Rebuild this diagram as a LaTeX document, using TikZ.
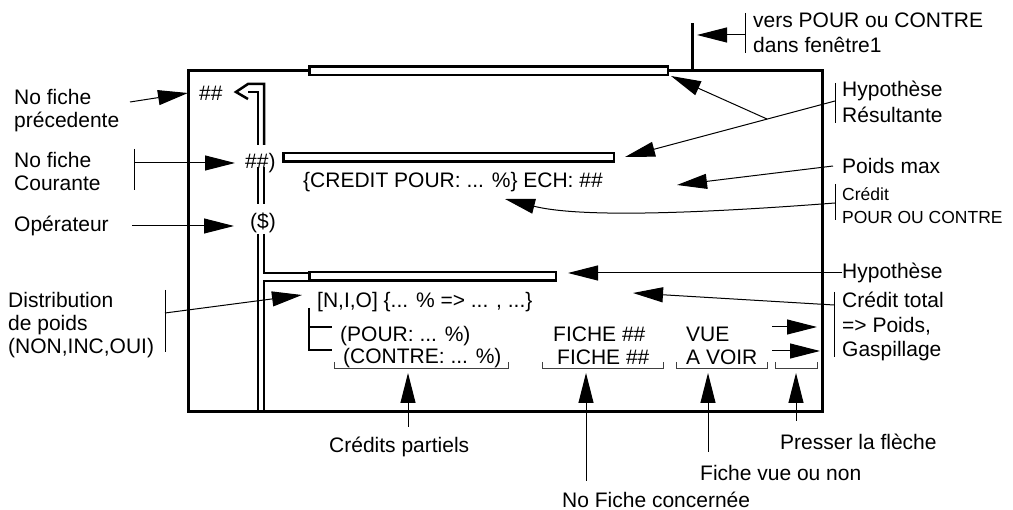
\documentclass[tikz,border=0pt]{standalone}
\usepackage{fontspec}
\setmainfont{Liberation Sans}
\usetikzlibrary{arrows.meta}
\begin{document}
\begin{tikzpicture}[x=1pt,y=-1pt,
  lbl/.style={inner sep=0pt, anchor=west, font=\fontsize{21pt}{25pt}\selectfont},
  slbl/.style={inner sep=0pt, anchor=west, font=\fontsize{17.5pt}{21pt}\selectfont},
  frame/.style={line width=3pt},
  chan/.style={line width=2.5pt},
  bar/.style={draw, line width=2.5pt, fill=white, inner sep=0pt, minimum height=8.5pt},
  thin/.style={line width=1pt},
  arr/.style={line width=1pt, -{Triangle[length=30pt,width=15pt]}},
  brk/.style={line width=0.9pt, black!75},
]
\useasboundingbox (0,0) rectangle (1013,510);

% frame and bars
\draw[frame] (188,71) -- (188,412) -- (822,412) -- (822,71) -- cycle;
\draw[frame] (692,71) -- (692,23);
\node[bar, minimum width=358.5pt] (barA) at (488.5,71) {};
\node[bar, minimum width=330.5pt] (barB) at (448.5,157.5) {};
\node[bar, minimum width=246.5pt] (barC) at (432.5,276.5) {};

% double channel
\draw[chan] (264,145) |- (248,84) -- (236,92) -- (248,99);
\draw[chan] (258,145) |- (248,92);
\draw[chan] (258,167) -- (258,204) (264,167) -- (264,204);
\draw[chan] (258,234) -- (258,412);
\draw[chan] (264,234) |- (barC.west |- 0,273);
\draw[chan] (barC.west |- 0,281) -| (264,412);

% tree
\draw[chan] (309,308) |- (332,350);
\draw[chan] (309,327) -- (332,327);

% bottom brackets
\draw[brk] (334,362) |- (508,368) -- (508,362);
\draw[brk] (542,362) |- (663,368) -- (663,362);
\draw[brk] (676,362) |- (767,368) -- (767,362);
\draw[brk] (775,362) |- (817,368) -- (817,362);

% inner texts
\node[lbl] (prev) at (199,93) {\#\#};
\node[lbl] (cur) at (245,163) {\#\#)};
\node[lbl] (op) at (250,223) {(\$)};
\node[lbl] (credit) at (303,182) {\{CREDIT POUR: ... \%\} ECH: \#\#};
\node[lbl] (nio) at (317,302) {[N,I,O] \{... \% => ... , ...\}};
\node[lbl] (pour) at (340,336) {(POUR: ... \%)};
\node[lbl] (contre) at (343,358) {(CONTRE: ... \%)};
\node[lbl] (fiche1) at (553,334) {FICHE \#\#};
\node[lbl] (fiche2) at (557,357) {FICHE \#\#};
\node[lbl] (vue) at (686,334) {VUE};
\node[lbl] (avoir) at (686,357) {A VOIR};

% left labels
\node[lbl] (l1a) at (14,97) {No fiche};
\node[lbl] (l1b) at (14,122) {précedente};
\node[lbl] (l2a) at (14,160) {No fiche};
\node[lbl] (l2b) at (14,183) {Courante};
\node[lbl] (l3) at (14,226) {Opérateur};
\node[lbl] (l4a) at (8,300) {Distribution};
\node[lbl] (l4b) at (8,325) {de poids};
\node[lbl] (l4c) at (8,348) {(NON,INC,OUI)};

% right labels
\node[lbl] (r0a) at (753,20) {vers POUR ou CONTRE};
\node[lbl] (r0b) at (753,45) {dans fenêtre1};
\node[lbl] (r1a) at (842,91) {Hypothèse};
\node[lbl] (r1b) at (842,115) {Résultante};
\node[lbl] (r2) at (842,166) {Poids max};
\node[slbl] (r3a) at (842,194) {Crédit};
\node[slbl] (r3b) at (842,217) {POUR OU CONTRE};
\node[lbl] (r4) at (842,273) {Hypothèse};
\node[lbl] (r5a) at (842,300) {Crédit total};
\node[lbl] (r5b) at (842,326) {=> Poids,};
\node[lbl] (r5c) at (842,351) {Gaspillage};

% bottom labels
\node[lbl] (b1) at (329,447) {Crédits partiels};
\node[lbl] (b2) at (562,500) {No Fiche concernée};
\node[lbl] (b3) at (700,473) {Fiche vue ou non};
\node[lbl] (b4) at (780,442) {Presser la flèche};

% label brackets
\draw[thin] (134,149) -- (134,190);
\draw[thin] (165,290) -- (165,352);
\draw[thin] (745,13) -- (745,53);
\draw[thin] (835,83) -- (835,123);
\draw[thin] (835,184) -- (835,220);
\draw[thin] (834,292) -- (834,357);

% arrows left
\draw[arr] (130,102) -- (188,93);
\draw[arr] (134,163) -- (235,163);
\draw[arr] (132,226) -- (234,226);
\draw[arr] (165,313) -- (302,295);

% arrows right
\draw[arr] (745,35) -- (697,35);
\coordinate (J) at (767,119);
\draw[arr] (835,101) -- (625,157);
\draw[arr] (J) -- (671,76);
\draw[arr] (833,166) -- (677,185);
\draw[arr] (835,203) .. controls (640,218) and (565,214) .. (505,199);
\draw[arr] (r4.west) -- (568,273);
\draw[arr] (834,305) -- (633,293);
\draw[arr] (772,327) -- (817,327);
\draw[arr] (772,351) -- (820,351);

% arrows bottom
\draw[arr] (408,427) -- (408,373);
\draw[arr] (586,481) -- (586,373);
\draw[arr] (708,452) -- (708,373);
\draw[arr] (796,421) -- (796,373);
\end{tikzpicture}
\end{document}
